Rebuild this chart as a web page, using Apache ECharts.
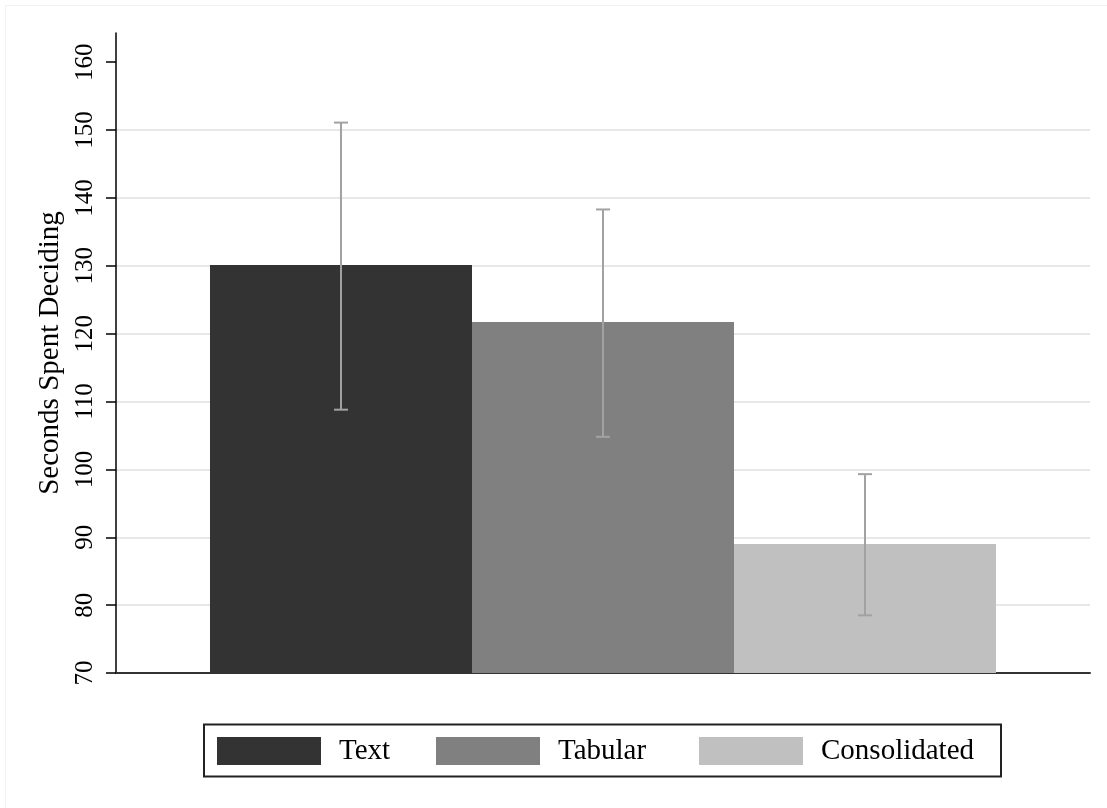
<!DOCTYPE html>
<html><head><meta charset="utf-8">
<script src="https://cdn.jsdelivr.net/npm/echarts@6/dist/echarts.min.js"></script>
<style>html,body{margin:0;padding:0;background:#fff}#c{width:1107px;height:808px}</style>
</head><body><div id="c"></div>
<script>
// ---- data ----
const groups = ['Text', 'Tabular', 'Consolidated'];
const means  = [130.1, 121.7, 89.0];
const lower  = [108.8, 104.8, 78.5];
const upper  = [151.1, 138.3, 99.3];
const yTicks = [70, 80, 90, 100, 110, 120, 130, 140, 150, 160];
const yTitle = 'Seconds Spent Deciding';

// ---- style ----
const colors = ['#333333', '#808080', '#c0c0c0'];
const BAR_FRAC = 0.269;
const FONT = '"Liberation Serif", "Times New Roman", serif';

const chart = echarts.init(document.getElementById('c'), null, {renderer: 'canvas'});

const barSeries = groups.map((g, i) => ({
  name: g, type: 'bar',
  data: [means[i]],
  barWidth: (BAR_FRAC * 100) + '%',
  barGap: '0%',
  itemStyle: {color: colors[i]},
  emphasis: {disabled: true},
  z: 2
}));

const errSeries = {
  type: 'custom', name: 'err', z: 5,
  data: groups.map((g, i) => [0, lower[i], upper[i], i]),
  renderItem(params, api) {
    const lo = api.coord([0, api.value(1)]);
    const hi = api.coord([0, api.value(2)]);
    const catW = api.size([1, 0])[0];
    const x = lo[0] + (api.value(3) - 1) * catW * BAR_FRAC;
    const st = {stroke: '#a2a2a2', lineWidth: 2};
    const cap = 7;
    return {type: 'group', children: [
      {type: 'line', shape: {x1: x, y1: lo[1], x2: x, y2: hi[1]}, style: st},
      {type: 'line', shape: {x1: x - cap, y1: hi[1], x2: x + cap, y2: hi[1]}, style: st},
      {type: 'line', shape: {x1: x - cap, y1: lo[1], x2: x + cap, y2: lo[1]}, style: st}
    ]};
  }
};

const gridColors = yTicks.map(v => (v === 70 || v === 160) ? 'rgba(0,0,0,0)' : '#e8e8e8');
gridColors.push('rgba(0,0,0,0)');

chart.setOption({
  animation: false,
  backgroundColor: '#ffffff',
  textStyle: {fontFamily: FONT},
  grid: {left: 116, right: 17, top: 33, bottom: 135, containLabel: false},
  xAxis: {
    type: 'category', data: [''],
    axisLine: {show: true, lineStyle: {color: '#333', width: 2}},
    axisTick: {show: false}, axisLabel: {show: false}, splitLine: {show: false}
  },
  yAxis: {
    type: 'value', min: 70, max: 164.3, interval: 10,
    name: yTitle, nameLocation: 'middle', nameGap: 50,
    nameTextStyle: {fontFamily: FONT, fontSize: 29, color: '#000'},
    axisLine: {show: true, lineStyle: {color: '#000', width: 1.5}},
    axisTick: {show: true, length: 10, customValues: yTicks, lineStyle: {color: '#000', width: 1.5}},
    axisLabel: {rotate: 90, margin: 18, customValues: yTicks, fontFamily: FONT, fontSize: 25, color: '#000'},
    splitLine: {show: true, lineStyle: {color: gridColors, width: 2}}
  },
  legend: {
    left: 204, top: 724.5, orient: 'horizontal',
    itemWidth: 104, itemHeight: 28, itemGap: 44,
    padding: [12, 25, 11, 13],
    borderColor: '#222', borderWidth: 2,
    icon: 'rect', selectedMode: false,
    textStyle: {fontFamily: FONT, fontSize: 29, lineHeight: 28, color: '#000', padding: [0, 0, 0, 13]},
    data: [
      {name: 'Text', textStyle: {width: 53}},
      {name: 'Tabular', textStyle: {width: 97}},
      {name: 'Consolidated', textStyle: {width: 155}}
    ]
  },
  graphic: [
    {type: 'line', silent: true, shape: {x1: 5.5, y1: 5.5, x2: 1107, y2: 5.5}, style: {stroke: '#f2f2f2', lineWidth: 1}},
    {type: 'line', silent: true, shape: {x1: 5.5, y1: 5.5, x2: 5.5, y2: 808}, style: {stroke: '#f2f2f2', lineWidth: 1}}
  ],
  series: [...barSeries, errSeries]
});
</script></body></html>
